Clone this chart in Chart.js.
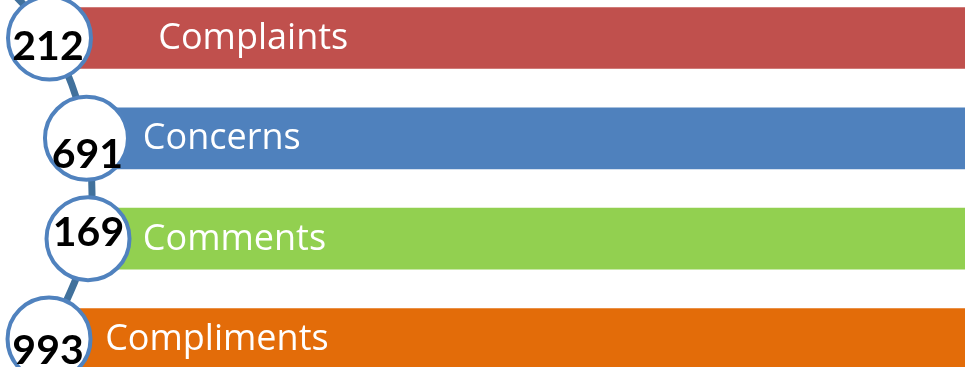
<!DOCTYPE html>
<html>
<head>
<meta charset="utf-8">
<style>
  html, body { margin: 0; padding: 0; background: #ffffff; overflow: hidden; }
  canvas { display: block; }
</style>
<script src="https://cdn.jsdelivr.net/npm/chart.js@4/dist/chart.umd.min.js"></script>
</head>
<body>
<canvas id="feedback" width="965" height="367"></canvas>
<script>
// Feedback received, by type
const categories = ['Complaints', 'Concerns', 'Comments', 'Compliments'];
const counts = [212, 691, 169, 993];

// Styling
const barColors = ['#c0504d', '#4f81bd', '#92d050', '#e36c09'];
const ringColor = '#5082be';
const trailColor = '#41719c';

// Layout: x in percent of the width, y in row units (row i sits at y = i)
const nodeX = [5.13, 8.96, 9.12, 5.08];
const labelX = [16.4, 14.8, 14.8, 10.9];
const trailStart = { x: -2.6, y: -0.83 };
const trailEnd = { x: 1.04, y: 3.81 };
const numberNudge = [[-1.5, 21.5], [1, 29.7], [0.5, 7.7], [-1, 24.5]];

const rows = categories.map((_, i) => i);

const rowText = {
  id: 'rowText',
  afterDatasetsDraw(chart) {
    const { ctx, scales: { x } } = chart;
    const bars = chart.getDatasetMeta(0).data;
    const nodes = chart.getDatasetMeta(2).data;
    ctx.save();
    ctx.textBaseline = 'alphabetic';
    ctx.fillStyle = '#ffffff';
    ctx.font = '36px "Open Sans"';
    ctx.textAlign = 'left';
    categories.forEach((name, i) => {
      ctx.fillText(name, x.getPixelForValue(labelX[i]), bars[i].y + 11);
    });
    ctx.fillStyle = '#000000';
    ctx.font = 'bold 41px Lato';
    ctx.textAlign = 'center';
    counts.forEach((n, i) => {
      ctx.fillText(String(n), nodes[i].x + numberNudge[i][0], nodes[i].y + numberNudge[i][1]);
    });
    ctx.restore();
  }
};

new Chart(document.getElementById('feedback'), {
  data: {
    datasets: [
      {
        type: 'bar',
        indexAxis: 'y',
        order: 3,
        data: rows.map(i => ({ x: [nodeX[i], 100], y: i })),
        backgroundColor: barColors,
        borderWidth: 0,
        barThickness: 61
      },
      {
        type: 'line',
        order: 2,
        data: [trailStart, ...rows.map(i => ({ x: nodeX[i], y: i })), trailEnd],
        borderColor: trailColor,
        borderWidth: 7,
        pointRadius: 0,
        tension: 0.35,
        fill: false
      },
      {
        type: 'scatter',
        order: 1,
        data: rows.map(i => ({ x: nodeX[i], y: i })),
        pointRadius: 41.5,
        pointHoverRadius: 41.5,
        pointBorderWidth: 4,
        pointBorderColor: ringColor,
        pointBackgroundColor: '#ffffff'
      }
    ]
  },
  options: {
    responsive: false,
    animation: false,
    events: [],
    layout: { padding: 0, autoPadding: false },
    plugins: { legend: { display: false }, tooltip: { enabled: false } },
    scales: {
      x: { type: 'linear', min: 0, max: 100, offset: false, display: false },
      y: { type: 'linear', min: -0.379, max: 3.279, reverse: true, offset: false, display: false }
    }
  },
  plugins: [rowText]
});
</script>
</body>
</html>
